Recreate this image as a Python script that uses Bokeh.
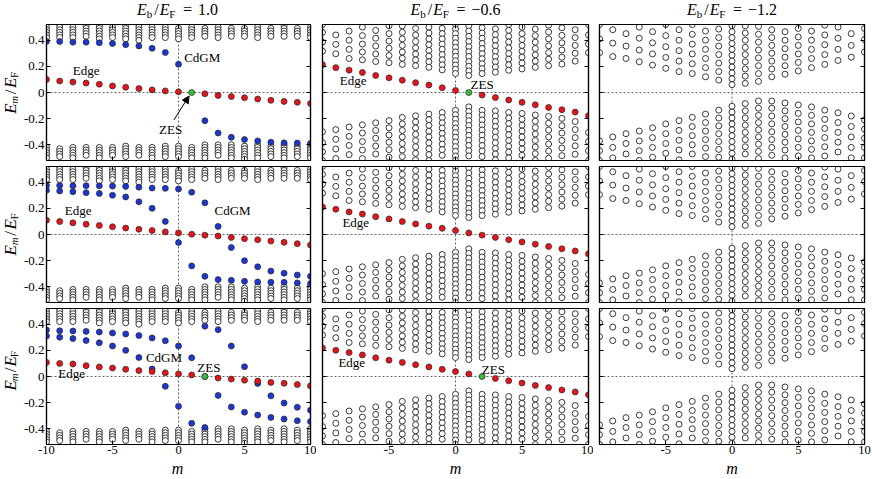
import math
from bokeh.plotting import figure
from bokeh.models import Range1d, LinearAxis, FixedTicker, Span, Label, Arrow, NormalHead
from bokeh.layouts import column, row
from bokeh.embed import file_html
from bokeh.resources import INLINE

SERIF = "Liberation Serif"
RED = "#e3151b"
BLUE = "#1d36cf"
GREEN = "#3cbc3c"
EDGE = "#262626"

# ---------------- data ----------------
m_values = [-10, -9, -8, -7, -6, -5, -4, -3, -2, -1, 0, 1, 2, 3, 4, 5, 6, 7, 8, 9, 10]
x_ticks = [-10, -5, 0, 5, 10]
x_tick_labels = ["-10", "-5", "0", "5", "10"]
y_ticks = [-0.4, -0.2, 0, 0.2, 0.4]
y_tick_labels = ["-0.4", "-0.2", "0", "0.2", "0.4"]
eb_values = ["1.0", "\u22120.6", "\u22121.2"]

# Column 1 (Eb/EF = 1.0): bulk (open circles) per m
c1_bulk_top = [
    [0.50, 0.48, 0.46, 0.44, 0.42],
    [0.52, 0.50, 0.48, 0.46, 0.44, 0.42],
    [0.50, 0.48, 0.46, 0.44, 0.42],
    [0.51, 0.49, 0.47, 0.45, 0.43],
    [0.51, 0.49, 0.47, 0.45, 0.43, 0.41],
    [0.50, 0.48, 0.46, 0.44, 0.42],
    [0.51, 0.49, 0.47, 0.45, 0.43, 0.41],
    [0.52, 0.50, 0.48, 0.46, 0.44, 0.42, 0.40],
    [0.50, 0.48, 0.46, 0.44, 0.42],
    [0.50, 0.48, 0.46, 0.44, 0.42],
    [0.49, 0.47, 0.45, 0.43, 0.41],
    [0.50, 0.48, 0.46, 0.44, 0.42],
    [0.49, 0.47, 0.45, 0.43],
    [0.50, 0.48, 0.46, 0.44, 0.42],
    [0.49, 0.47, 0.45, 0.43],
    [0.49, 0.47, 0.45, 0.43],
    [0.50, 0.48, 0.46, 0.44, 0.42],
    [0.49, 0.47, 0.45, 0.43],
    [0.51, 0.49, 0.47, 0.45, 0.43],
    [0.49, 0.47, 0.45, 0.43],
    [0.50, 0.48, 0.46, 0.44, 0.42],
]
c1_bulk_bot = [
    [-0.42, -0.44, -0.46, -0.48, -0.50],
    [-0.43, -0.45, -0.47, -0.49],
    [-0.42, -0.44, -0.46, -0.48, -0.50],
    [-0.42, -0.44, -0.46, -0.48],
    [-0.42, -0.44, -0.46, -0.48, -0.50],
    [-0.42, -0.44, -0.46, -0.48],
    [-0.41, -0.43, -0.45, -0.47, -0.49],
    [-0.42, -0.44, -0.46, -0.48],
    [-0.42, -0.44, -0.46, -0.48, -0.50],
    [-0.41, -0.43, -0.45, -0.47, -0.49],
    [-0.41, -0.43, -0.45, -0.47, -0.49],
    [-0.42, -0.44, -0.46, -0.48, -0.50],
    [-0.40, -0.42, -0.44, -0.46, -0.48, -0.50],
    [-0.40, -0.42, -0.44, -0.46, -0.48],
    [-0.40, -0.42, -0.44, -0.46, -0.48, -0.50],
    [-0.41, -0.43, -0.45, -0.47, -0.49, -0.51],
    [-0.40, -0.42, -0.44, -0.46, -0.48, -0.50],
    [-0.41, -0.43, -0.45, -0.47, -0.49],
    [-0.40, -0.42, -0.44, -0.46, -0.48, -0.50],
    [-0.41, -0.43, -0.45, -0.47, -0.49],
    [-0.40, -0.42, -0.44, -0.46, -0.48, -0.50],
]

# Column 1, row 1
c1r1_edge_m = [-10, -9, -8, -7, -6, -5, -4, -3, -2, -1, 0, 2, 3, 4, 5, 6, 7, 8, 9, 10]
c1r1_edge_E = [0.100, 0.088, 0.080, 0.072, 0.063, 0.050, 0.040, 0.030, 0.020, 0.012, 0.005,
               -0.010, -0.023, -0.031, -0.040, -0.050, -0.060, -0.068, -0.075, -0.085]
c1r1_cdgm_m = [-10, -9, -8, -7, -6, -5, -4, -3, -2, -1, 0, 2, 3, 4, 5, 6, 7, 8, 9, 10]
c1r1_cdgm_E = [0.390, 0.390, 0.385, 0.385, 0.380, 0.374, 0.366, 0.356, 0.338, 0.306, 0.216,
               -0.216, -0.310, -0.343, -0.360, -0.370, -0.380, -0.385, -0.387, -0.390]
c1r1_zes_m = [1]
c1r1_zes_E = [0.0]

# Column 1, row 2
c1r2_edge_E = [0.109, 0.099, 0.089, 0.079, 0.069, 0.059, 0.049, 0.040, 0.030, 0.020, 0.012,
               0.002, -0.005, -0.012, -0.022, -0.032, -0.040, -0.050, -0.060, -0.070, -0.080]
c1r2_cdgm_a_E = [0.375, 0.375, 0.373, 0.373, 0.372, 0.370, 0.368, 0.362, 0.355, 0.353, 0.348,
                 0.323, 0.242, 0.062, -0.100, -0.200, -0.247, -0.280, -0.296, -0.310, -0.320]
c1r2_cdgm_b_E = [0.338, 0.333, 0.327, 0.320, 0.314, 0.300, 0.287, 0.250, 0.200, 0.100, -0.062,
                 -0.240, -0.320, -0.345, -0.350, -0.358, -0.363, -0.365, -0.366, -0.370, -0.375]

# Column 1, row 3
c1r3_edge_m = [-10, -9, -8, -7, -6, -5, -4, -3, -2, -1, 0, 1, 3, 4, 5, 6, 7, 8, 9, 10]
c1r3_edge_E = [0.108, 0.100, 0.095, 0.083, 0.073, 0.065, 0.055, 0.045, 0.038, 0.028, 0.020, 0.012,
               -0.012, -0.020, -0.028, -0.035, -0.045, -0.052, -0.062, -0.072]
c1r3_cdgm_a_E = [0.355, 0.350, 0.348, 0.345, 0.340, 0.333, 0.325, 0.313, 0.295, 0.273, 0.233,
                 0.143, 0.000, -0.145, -0.233, -0.273, -0.295, -0.313, -0.325, -0.338, -0.345]
c1r3_cdgm_b_m = [-10, -9, -8, -7, -6, -5, -4, -3, -2, -1, 0, 1, 2]
c1r3_cdgm_b_E = [0.310, 0.300, 0.290, 0.275, 0.258, 0.233, 0.200, 0.145, 0.058, -0.075, -0.228, -0.358, -0.390]
c1r3_cdgm_c_m = [2, 3, 4, 5, 6, 7, 8, 9, 10]
c1r3_cdgm_c_E = [0.385, 0.358, 0.233, 0.075, -0.053, -0.148, -0.203, -0.235, -0.258]
c1r3_zes_m = [2]
c1r3_zes_E = [0.0]

# Column 2 (Eb/EF = -0.6): bulk per m
c2_bulk_top = [
    [0.52, 0.46, 0.385, 0.316],
    [0.44, 0.368, 0.296],
    [0.47, 0.40, 0.33, 0.26],
    [0.50, 0.435, 0.37, 0.31, 0.25],
    [0.475, 0.415, 0.355, 0.295, 0.237],
    [0.51, 0.45, 0.393, 0.338, 0.283, 0.228],
    [0.51, 0.46, 0.41, 0.36, 0.31, 0.262, 0.215],
    [0.49, 0.44, 0.39, 0.342, 0.295, 0.25, 0.205],
    [0.50, 0.455, 0.41, 0.366, 0.322, 0.278, 0.235, 0.193],
    [0.49, 0.45, 0.41, 0.37, 0.33, 0.29, 0.25, 0.212, 0.173],
    [0.52, 0.485, 0.45, 0.415, 0.38, 0.345, 0.31, 0.277, 0.243, 0.21, 0.178, 0.145],
    [0.51, 0.47, 0.43, 0.39, 0.35, 0.312, 0.275, 0.237, 0.20, 0.165, 0.13],
    [0.495, 0.455, 0.415, 0.375, 0.336, 0.297, 0.258, 0.22, 0.182, 0.145],
    [0.487, 0.443, 0.40, 0.358, 0.316, 0.275, 0.235, 0.195, 0.155],
    [0.52, 0.475, 0.43, 0.386, 0.342, 0.298, 0.255, 0.212, 0.17],
    [0.50, 0.45, 0.405, 0.36, 0.315, 0.27, 0.225, 0.18],
    [0.485, 0.435, 0.385, 0.336, 0.288, 0.24, 0.193],
    [0.515, 0.463, 0.41, 0.357, 0.305, 0.255, 0.205],
    [0.495, 0.437, 0.38, 0.325, 0.27, 0.217],
    [0.48, 0.42, 0.36, 0.30, 0.24],
    [0.52, 0.44, 0.37, 0.305],
]
c2_bulk_bot = [
    [-0.30, -0.383, -0.454, -0.52],
    [-0.284, -0.358, -0.432, -0.505],
    [-0.264, -0.335, -0.405, -0.475],
    [-0.247, -0.31, -0.375, -0.44, -0.505],
    [-0.232, -0.29, -0.35, -0.41, -0.47],
    [-0.215, -0.27, -0.325, -0.38, -0.437, -0.495],
    [-0.19, -0.24, -0.29, -0.34, -0.39, -0.44, -0.49],
    [-0.178, -0.225, -0.272, -0.32, -0.368, -0.415, -0.465, -0.515],
    [-0.165, -0.208, -0.252, -0.296, -0.34, -0.385, -0.43, -0.475, -0.52],
    [-0.153, -0.192, -0.232, -0.272, -0.313, -0.354, -0.395, -0.437, -0.48],
    [-0.136, -0.17, -0.204, -0.238, -0.272, -0.307, -0.342, -0.378, -0.414, -0.45, -0.486, -0.52],
    [-0.11, -0.145, -0.18, -0.216, -0.252, -0.29, -0.328, -0.366, -0.405, -0.445, -0.485],
    [-0.136, -0.172, -0.21, -0.248, -0.287, -0.326, -0.366, -0.406, -0.447, -0.49],
    [-0.141, -0.18, -0.22, -0.26, -0.30, -0.342, -0.384, -0.427, -0.47, -0.515],
    [-0.153, -0.195, -0.237, -0.28, -0.323, -0.367, -0.411, -0.456, -0.50],
    [-0.16, -0.205, -0.25, -0.295, -0.34, -0.386, -0.432, -0.48],
    [-0.172, -0.22, -0.268, -0.317, -0.367, -0.417, -0.468, -0.52],
    [-0.183, -0.235, -0.287, -0.34, -0.394, -0.448, -0.503],
    [-0.198, -0.254, -0.31, -0.367, -0.425, -0.483],
    [-0.222, -0.283, -0.345, -0.408, -0.472],
    [-0.306, -0.375, -0.445, -0.52],
]
c2r1_edge_m = [-10, -9, -8, -7, -6, -5, -4, -3, -2, -1, 0, 2, 3, 4, 5, 6, 7, 8, 9, 10]
c2r1_edge_E = [0.213, 0.190, 0.171, 0.153, 0.130, 0.112, 0.094, 0.075, 0.057, 0.036, 0.016,
               -0.020, -0.039, -0.057, -0.075, -0.094, -0.114, -0.132, -0.150, -0.177]
c2r1_zes_m = [1]
c2r1_zes_E = [0.0]
c2r2_edge_E = [0.210, 0.193, 0.173, 0.156, 0.136, 0.119, 0.099, 0.081, 0.064, 0.047, 0.030,
               0.012, -0.005, -0.022, -0.040, -0.057, -0.074, -0.091, -0.109, -0.126, -0.148]
c2r3_edge_m = [-10, -9, -8, -7, -6, -5, -4, -3, -2, -1, 0, 1, 3, 4, 5, 6, 7, 8, 9, 10]
c2r3_edge_E = [0.218, 0.200, 0.183, 0.165, 0.143, 0.125, 0.108, 0.090, 0.073, 0.055, 0.038, 0.020,
               -0.015, -0.033, -0.050, -0.068, -0.085, -0.103, -0.118, -0.140]
c2r3_zes_m = [2]
c2r3_zes_E = [0.0]

# Column 3 (Eb/EF = -1.2): bulk per m
c3_bulk_top = [
    [0.52, 0.41, 0.305],
    [0.48, 0.378, 0.275],
    [0.45, 0.355, 0.26],
    [0.50, 0.415, 0.325, 0.235],
    [0.465, 0.38, 0.295, 0.21],
    [0.52, 0.435, 0.35, 0.268, 0.185],
    [0.48, 0.40, 0.32, 0.24, 0.16],
    [0.52, 0.445, 0.37, 0.295, 0.22, 0.145],
    [0.47, 0.40, 0.33, 0.26, 0.19, 0.12],
    [0.485, 0.42, 0.355, 0.29, 0.225, 0.16, 0.095],
    [0.51, 0.465, 0.42, 0.375, 0.33, 0.285, 0.24, 0.195, 0.15, 0.105, 0.06],
    [0.51, 0.455, 0.40, 0.345, 0.29, 0.235, 0.18, 0.125, 0.07],
    [0.505, 0.445, 0.385, 0.325, 0.265, 0.205, 0.145, 0.085],
    [0.48, 0.42, 0.36, 0.30, 0.24, 0.18, 0.12],
    [0.465, 0.40, 0.335, 0.27, 0.205, 0.14],
    [0.49, 0.425, 0.36, 0.295, 0.23, 0.165],
    [0.47, 0.40, 0.33, 0.26, 0.19],
    [0.515, 0.44, 0.365, 0.29, 0.215],
    [0.50, 0.415, 0.33, 0.245],
    [0.45, 0.36, 0.27],
    [0.49, 0.405, 0.31],
]
c3_bulk_bot = [
    [-0.37, -0.445, -0.52],
    [-0.34, -0.42, -0.50],
    [-0.315, -0.39, -0.47],
    [-0.295, -0.37, -0.445, -0.52],
    [-0.27, -0.345, -0.42, -0.495],
    [-0.24, -0.315, -0.39, -0.465],
    [-0.215, -0.29, -0.365, -0.44, -0.515],
    [-0.19, -0.26, -0.33, -0.40, -0.47],
    [-0.165, -0.23, -0.295, -0.36, -0.425, -0.49],
    [-0.135, -0.195, -0.255, -0.315, -0.375, -0.435, -0.495],
    [-0.105, -0.15, -0.195, -0.24, -0.285, -0.33, -0.375, -0.42, -0.465, -0.51],
    [-0.085, -0.14, -0.195, -0.25, -0.305, -0.36, -0.415, -0.47],
    [-0.065, -0.12, -0.175, -0.23, -0.285, -0.34, -0.395, -0.45, -0.505],
    [-0.065, -0.12, -0.18, -0.24, -0.30, -0.36, -0.42, -0.48],
    [-0.08, -0.14, -0.20, -0.26, -0.32, -0.38, -0.44, -0.50],
    [-0.095, -0.16, -0.225, -0.29, -0.355, -0.42, -0.485],
    [-0.11, -0.175, -0.24, -0.305, -0.37, -0.435, -0.50],
    [-0.135, -0.205, -0.275, -0.345, -0.415, -0.485],
    [-0.155, -0.23, -0.305, -0.38, -0.455],
    [-0.18, -0.26, -0.34, -0.42, -0.50],
    [-0.21, -0.28, -0.35, -0.42, -0.50],
]

# ---------------- panel specs ----------------
bulk = [(c1_bulk_top, c1_bulk_bot), (c2_bulk_top, c2_bulk_bot), (c3_bulk_top, c3_bulk_bot)]

series = {
    (0, 0): [(c1r1_cdgm_m, c1r1_cdgm_E, BLUE), (c1r1_edge_m, c1r1_edge_E, RED), (c1r1_zes_m, c1r1_zes_E, GREEN)],
    (1, 0): [(m_values, c1r2_cdgm_a_E, BLUE), (m_values, c1r2_cdgm_b_E, BLUE), (m_values, c1r2_edge_E, RED)],
    (2, 0): [(m_values, c1r3_cdgm_a_E, BLUE), (c1r3_cdgm_b_m, c1r3_cdgm_b_E, BLUE),
             (c1r3_cdgm_c_m, c1r3_cdgm_c_E, BLUE), (c1r3_edge_m, c1r3_edge_E, RED),
             (c1r3_zes_m, c1r3_zes_E, GREEN)],
    (0, 1): [(c2r1_edge_m, c2r1_edge_E, RED), (c2r1_zes_m, c2r1_zes_E, GREEN)],
    (1, 1): [(m_values, c2r2_edge_E, RED)],
    (2, 1): [(c2r3_edge_m, c2r3_edge_E, RED), (c2r3_zes_m, c2r3_zes_E, GREEN)],
    (0, 2): [], (1, 2): [], (2, 2): [],
}

notes = {
    (0, 0): [("Edge", -7.0, 0.165), ("CdGM", 1.8, 0.27), ("ZES", -0.6, -0.285)],
    (1, 0): [("Edge", -7.6, 0.18), ("CdGM", 4.1, 0.18)],
    (2, 0): [("Edge", -8.1, 0.02), ("CdGM", -1.1, 0.143), ("ZES", 2.3, 0.068)],
    (0, 1): [("Edge", -7.7, 0.09), ("ZES", 2.0, 0.058)],
    (1, 1): [("Edge", -7.5, 0.094)],
    (2, 1): [("Edge", -7.8, 0.105), ("ZES", 2.85, 0.055)],
}

# ---------------- layout ----------------
YLAB_W = 20
COL_W = [296, 277, 278]
COL_BL = [24, 6, 6]
COL_BR = [6, 5, 7]
TITLE_H = 20
XLAB_H = 18
ROW_H = [143, 142, 154]
ROW_BT = [4, 3, 3]
ROW_BB = [3, 3, 15]
TOTAL_W = YLAB_W + sum(COL_W)

CHAR_W = {"\u2212": 0.564, "1": 0.5, "0": 0.5, ".": 0.25, "2": 0.5, "6": 0.5}
MID = 0.3375  # em-box middle above the baseline (Liberation Serif)


def style_axis(ax, ticks, overrides, show, fs="13px", standoff=2):
    ax.ticker = FixedTicker(ticks=ticks)
    ax.major_label_overrides = overrides
    ax.axis_line_color = "black"
    ax.axis_line_width = 1.2
    ax.major_tick_in = 4
    ax.major_tick_out = 0
    ax.major_tick_line_color = "black"
    ax.major_tick_line_width = 1
    ax.minor_tick_line_color = None
    ax.major_label_text_font = SERIF
    if show:
        ax.major_label_text_font_size = fs
        ax.major_label_text_color = "black"
        ax.major_label_standoff = standoff
    else:
        ax.major_label_text_font_size = "1px"
        ax.major_label_text_color = None
        ax.major_label_standoff = 0


def strip(w, h):
    f = figure(width=w, height=h, x_range=Range1d(0, w), y_range=Range1d(0, h),
               output_backend="svg", toolbar_location=None,
               x_axis_location=None, y_axis_location=None,
               min_border_left=0, min_border_right=0, min_border_top=0, min_border_bottom=0,
               outline_line_color=None, background_fill_color="white", border_fill_color="white")
    f.xgrid.visible = False
    f.ygrid.visible = False
    return f


def lab(p, text, x, y, fs, style="normal", angle=0.0, align="left"):
    p.add_layout(Label(x=x, y=y, text=text,
                       text_font=SERIF, text_font_size=f"{fs}px", text_font_style=style,
                       text_color="black", text_align=align, text_baseline="middle",
                       angle=angle))


# frame centres (page pixels) of the three columns
col_left = []
acc = YLAB_W
for c in range(3):
    col_left.append(acc + COL_BL[c])
    acc += COL_W[c]
col_fw = [COL_W[c] - COL_BL[c] - COL_BR[c] for c in range(3)]
col_center = [col_left[c] + col_fw[c] / 2 for c in range(3)]

# title strip (baseline 14.5 px below its top edge)
title_fig = strip(TOTAL_W, TITLE_H)
base = TITLE_H - 14.5
for c in range(3):
    fs, fss = 16, 11
    val = eb_values[c]
    vw = sum(CHAR_W.get(ch, 0.5) for ch in val) * fs
    total = 61.0 + vw
    x0 = col_center[c] - total / 2
    ym = base + MID * fs
    ys = base - 3.0 + MID * fss
    lab(title_fig, "E", x0, ym, fs, "italic")
    lab(title_fig, "b", x0 + 9.8, ys, fss)
    lab(title_fig, "/", x0 + 17.2, ym, fs)
    lab(title_fig, "E", x0 + 22.8, ym, fs, "italic")
    lab(title_fig, "F", x0 + 32.3, ys, fss)
    lab(title_fig, "=", x0 + 46.0, ym, fs)
    lab(title_fig, val, x0 + 61.0, ym, fs)

# x label strip
xlab_fig = strip(TOTAL_W, XLAB_H)
for c in range(3):
    lab(xlab_fig, "m", col_center[c], XLAB_H / 2, 16, "italic", align="center")

layout_rows = [title_fig]
for r in range(3):
    H = ROW_H[r]
    fh = H - ROW_BT[r] - ROW_BB[r]
    # y label strip (rotated, reads bottom to top)
    yl = strip(YLAB_W, H)
    total = 43.6
    y0 = ROW_BB[r] + fh / 2 - total / 2
    a = math.pi / 2
    lab(yl, "E", 10.0, y0, 17, "italic", a)
    lab(yl, "m", 13.8, y0 + 10.5, 11, "italic", a)
    lab(yl, "/", 10.0, y0 + 20.5, 17, "normal", a)
    lab(yl, "E", 10.0, y0 + 27.0, 17, "italic", a)
    lab(yl, "F", 13.8, y0 + 37.5, 11, "normal", a)
    figs = [yl]
    for c in range(3):
        W = COL_W[c]
        p = figure(width=W, height=H, x_range=Range1d(-10, 10), y_range=Range1d(-0.52, 0.52),
                   output_backend="svg", toolbar_location=None,
                   min_border_left=COL_BL[c], min_border_right=COL_BR[c],
                   min_border_top=ROW_BT[r], min_border_bottom=ROW_BB[r],
                   background_fill_color="white", border_fill_color="white",
                   outline_line_color="black", outline_line_width=1.2)
        p.xgrid.visible = False
        p.ygrid.visible = False
        p.add_layout(LinearAxis(), "right")
        p.add_layout(LinearAxis(), "above")

        xt = x_ticks if c == 0 else x_ticks[1:]
        xo = dict(zip(x_ticks, x_tick_labels))
        xo = {k: v for k, v in xo.items() if k in xt}
        yo = dict(zip(y_ticks, y_tick_labels))
        for ax in p.below:
            style_axis(ax, xt, xo, r == 2, fs="12.5px", standoff=1)
        for ax in p.above:
            style_axis(ax, xt, xo, False)
        for ax in p.left:
            style_axis(ax, y_ticks, yo, c == 0)
        for ax in p.right:
            style_axis(ax, y_ticks, yo, False)

        p.add_layout(Span(location=0, dimension="width", line_color="#666666", line_width=1,
                          line_dash="2 2", level="underlay"))
        p.add_layout(Span(location=0, dimension="height", line_color="#666666", line_width=1,
                          line_dash="2 2", level="underlay"))

        top, bot = bulk[c]
        xs, ys = [], []
        for m, stack in zip(m_values, top):
            for v in stack:
                xs.append(m)
                ys.append(v)
        for m, stack in zip(m_values, bot):
            for v in stack:
                xs.append(m)
                ys.append(v)
        p.scatter(x=xs, y=ys, marker="circle", size=6, fill_color="white",
                  line_color=EDGE, line_width=0.9)

        for ms, es, col in series[(r, c)]:
            p.scatter(x=ms, y=es, marker="circle", size=6, fill_color=col,
                      line_color="#2a2a2a", line_width=0.7)

        for t, mx, ey in notes.get((r, c), []):
            p.add_layout(Label(x=mx, y=ey, text=t, text_font=SERIF, text_font_size="13px",
                               text_color="black", text_align="center", text_baseline="middle"))
        if (r, c) == (0, 0):
            p.add_layout(Arrow(end=NormalHead(size=7, fill_color="black", line_color="black", line_width=1),
                               x_start=-0.35, y_start=-0.21, x_end=0.8, y_end=-0.027,
                               line_color="black", line_width=1))
        figs.append(p)
    layout_rows.append(row(*figs))
layout_rows.append(xlab_fig)

layout = column(*layout_rows)
open("out.html", "w").write(file_html(layout, INLINE, title="Vortex spectrum"))
